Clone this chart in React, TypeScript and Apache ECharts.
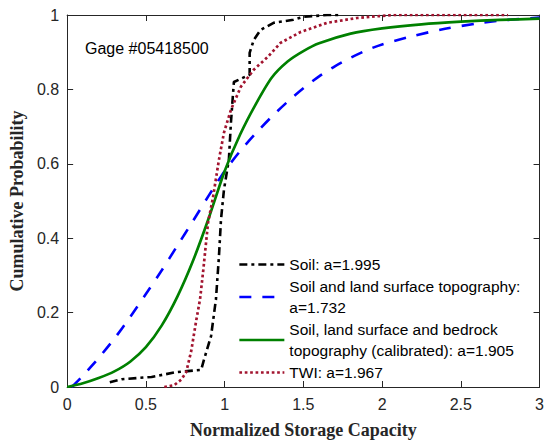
import React, { useEffect, useRef } from "react";
import * as echarts from "echarts";

// ---- data ----
const soilX = [0.271, 0.347, 0.536, 0.693, 0.851, 0.870, 0.914, 0.945, 0.964, 0.977, 0.996, 1.027, 1.040, 1.052, 1.059, 1.115, 1.159, 1.159, 1.185, 1.229, 1.311, 1.437, 1.500, 1.651, 1.745];
const soilY = [0.013, 0.021, 0.027, 0.040, 0.046, 0.075, 0.137, 0.236, 0.351, 0.450, 0.531, 0.611, 0.710, 0.780, 0.820, 0.831, 0.839, 0.898, 0.933, 0.960, 0.979, 0.987, 0.995, 1.0, 1.0];

const topoX = [0.03, 0.1, 0.2, 0.3, 0.4, 0.5, 0.6, 0.7, 0.8, 0.9, 1.0, 1.1, 1.2, 1.3, 1.4, 1.5, 1.6, 1.7, 1.8, 1.9, 2.0, 2.2, 2.4, 2.6, 2.8, 3.0];
const topoY = [0.0, 0.03, 0.078, 0.13, 0.188, 0.25, 0.313, 0.38, 0.447, 0.515, 0.58, 0.635, 0.683, 0.727, 0.767, 0.803, 0.835, 0.862, 0.885, 0.905, 0.921, 0.944, 0.963, 0.977, 0.987, 0.993];

const bedX = [0.0, 0.1, 0.2, 0.3, 0.4, 0.5, 0.6, 0.7, 0.8, 0.9, 1.0, 1.1, 1.2, 1.3, 1.4, 1.5, 1.6, 1.8, 2.0, 2.25, 2.5, 2.75, 3.0];
const bedY = [0.0, 0.01, 0.024, 0.042, 0.068, 0.107, 0.165, 0.243, 0.34, 0.455, 0.58, 0.68, 0.762, 0.832, 0.875, 0.903, 0.924, 0.95, 0.964, 0.975, 0.982, 0.987, 0.990];

const twiX = [0.617, 0.68, 0.725, 0.756, 0.788, 0.819, 0.844, 0.863, 0.895, 0.926, 0.964, 0.996, 1.040, 1.103, 1.185, 1.273, 1.355, 1.481, 1.651, 1.840, 2.067, 2.80];
const twiY = [0.0, 0.005, 0.02, 0.04, 0.097, 0.177, 0.236, 0.308, 0.442, 0.509, 0.611, 0.684, 0.745, 0.807, 0.853, 0.887, 0.925, 0.954, 0.979, 0.992, 1.0, 1.0];

const seriesNames = ["Soil", "Topo", "Bedrock", "TWI"];
const legendLabels: Record<string, string> = {
  Soil: "Soil: a=1.995",
  Topo: "Soil and land surface topography:\na=1.732",
  Bedrock: "Soil, land surface and bedrock\ntopography (calibrated): a=1.905",
  TWI: "TWI: a=1.967",
};
const xTicks = { min: 0, max: 3, interval: 0.5 };
const yTicks = { min: 0, max: 1, interval: 0.2 };
const titleText = "Gage #05418500";
const xName = "Normalized Storage Capacity";
const yName = "Cumulative Probability";

const zip = (xs: number[], ys: number[]) => xs.map((x, i) => [x, ys[i]]);

const SANS = "'Liberation Sans', Arial, Helvetica, sans-serif";
const SERIF = "'Liberation Serif', 'Times New Roman', serif";
const AX = "#262626";

export default function App() {
  const ref = useRef<HTMLDivElement>(null);
  useEffect(() => {
    document.body.style.margin = "0";
    if (!ref.current) return;
    const chart = echarts.init(ref.current, undefined, { renderer: "svg" });

    const styles = [
      { color: "#000000", width: 2.6, type: [8, 4, 3, 4] as any },
      { color: "#0000FF", width: 2.6, type: [12, 11] as any },
      { color: "#008000", width: 2.7, type: "solid" as any },
      { color: "#A2142F", width: 2.7, type: [2.7, 2.7] as any },
    ];
    const datas = [zip(soilX, soilY), zip(topoX, topoY), zip(bedX, bedY), zip(twiX, twiY)];

    const baseX = {
      type: "value" as const,
      ...xTicks,
      axisLine: { show: true, onZero: false, lineStyle: { color: AX, width: 1 } },
      axisTick: { show: true, inside: true, length: 6, lineStyle: { color: AX } },
      splitLine: { show: false },
    };
    const baseY = {
      type: "value" as const,
      ...yTicks,
      axisLine: { show: true, onZero: false, lineStyle: { color: AX, width: 1 } },
      axisTick: { show: true, inside: true, length: 6, lineStyle: { color: AX } },
      splitLine: { show: false },
    };

    chart.setOption({
      animation: false,
      backgroundColor: "#ffffff",
      title: {
        text: titleText,
        left: 80,
        top: 35,
        textStyle: { fontFamily: SANS, fontSize: 16, fontWeight: "normal", color: "#000" },
      },
      grid: { left: 65, right: 7, top: 15, bottom: 56, containLabel: false },
      xAxis: [
        {
          ...baseX,
          position: "bottom",
          name: xName,
          nameLocation: "middle",
          nameGap: 34,
          nameTextStyle: { fontFamily: SERIF, fontWeight: "bold", fontSize: 18, color: AX },
          axisLabel: { show: true, fontFamily: SANS, fontSize: 16, color: AX, margin: 9 },
        },
        { ...baseX, position: "top", axisLabel: { show: false } },
      ],
      yAxis: [
        {
          ...baseY,
          position: "left",
          name: yName,
          nameLocation: "middle",
          nameGap: 34,
          nameTextStyle: { fontFamily: SERIF, fontWeight: "bold", fontSize: 18, color: AX },
          axisLabel: { show: true, fontFamily: SANS, fontSize: 16, color: AX, margin: 8 },
        },
        { ...baseY, position: "right", axisLabel: { show: false } },
      ],
      legend: {
        orient: "vertical",
        left: 238,
        top: 254,
        padding: 0,
        itemGap: 1,
        itemWidth: 45,
        itemHeight: 14,
        itemStyle: { opacity: 0 },
        textStyle: { fontFamily: SANS, fontSize: 15.5, lineHeight: 21, color: "#000" },
        formatter: (n: string) => legendLabels[n] || n,
        data: seriesNames.map((n, i) => ({
          name: n,
          lineStyle: { color: styles[i].color, width: styles[i].width, type: styles[i].type, opacity: 1 },
        })),
      },
      series: seriesNames.map((n, i) => ({
        name: n,
        type: "line",
        xAxisIndex: 0,
        yAxisIndex: 0,
        data: datas[i],
        showSymbol: false,
        symbol: "none",
        smooth: i === 1 || i === 2 ? 0.25 : false,
        color: styles[i].color,
        lineStyle: { color: styles[i].color, width: styles[i].width, type: styles[i].type },
      })),
    });
    return () => chart.dispose();
  }, []);
  return <div ref={ref} style={{ width: 547, height: 444 }} />;
}
